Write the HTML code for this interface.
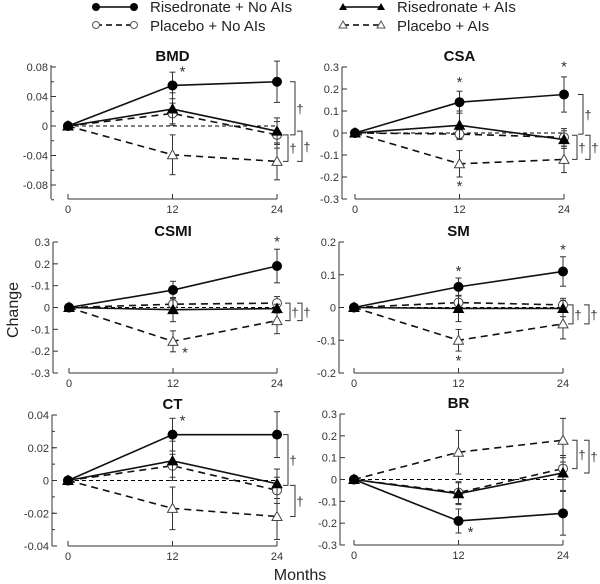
<!DOCTYPE html>
<html><head><meta charset="utf-8"><style>
html,body{margin:0;padding:0;background:#fff;}
svg{display:block;font-family:"Liberation Sans",Arial,sans-serif;}
</style></head><body>
<svg id="fig" width="600" height="584" viewBox="0 0 600 584">
  <g>
    <g>
      <line x1="96" y1="7" x2="134" y2="7" stroke="#000" stroke-width="1.5"/>
      <circle cx="96" cy="7" r="4" fill="#000"/><circle cx="134" cy="7" r="4" fill="#000"/>
      <text x="150" y="12" font-size="15" fill="#222">Risedronate + No AIs</text>
    </g>
    <g>
      <line x1="96" y1="25" x2="134" y2="25" stroke="#000" stroke-width="1.5" stroke-dasharray="6,4"/>
      <circle cx="96" cy="25" r="3.5" fill="#fff" stroke="#555"/><circle cx="134" cy="25" r="3.5" fill="#fff" stroke="#555"/>
      <text x="150" y="31" font-size="15" fill="#222">Placebo + No AIs</text>
    </g>
    <g>
      <line x1="343" y1="7" x2="381" y2="7" stroke="#000" stroke-width="1.5"/>
      <polygon points="343,3 347,10 339,10" fill="#000"/><polygon points="381,3 385,10 377,10" fill="#000"/>
      <text x="397" y="12" font-size="15" fill="#222">Risedronate + AIs</text>
    </g>
    <g>
      <line x1="343" y1="25" x2="381" y2="25" stroke="#000" stroke-width="1.5" stroke-dasharray="6,4"/>
      <polygon points="343,21 347,28 339,28" fill="#fff" stroke="#555"/><polygon points="381,21 385,28 377,28" fill="#fff" stroke="#555"/>
      <text x="397" y="31" font-size="15" fill="#222">Placebo + AIs</text>
    </g>
  </g>
  <text x="18" y="310" font-size="16" fill="#222" text-anchor="middle" transform="rotate(-90 18 310)">Change</text>
  <text x="300" y="580" font-size="16" fill="#222" text-anchor="middle">Months</text>
</svg>
<script>
const months = [0, 12, 24];
const panelNames = ["BMD", "CSA", "CSMI", "SM", "CT", "BR"];
// series: [risNoAIs, risAIs, placNoAIs, placAIs]
const bmdMean = [[0,0.055,0.06],[0,0.023,-0.007],[0,0.017,-0.012],[0,-0.039,-0.048]];
const bmdErr  = [[0,0.018,0.028],[0,0.022,0.018],[0,0.014,0.018],[0,0.027,0.025]];
const csaMean = [[0,0.14,0.175],[0,0.035,-0.03],[0,-0.005,-0.02],[0,-0.14,-0.12]];
const csaErr  = [[0,0.05,0.08],[0,0.065,0.04],[0,0.02,0.04],[0,0.06,0.06]];
const csmiMean = [[0,0.08,0.19],[0,-0.01,-0.005],[0,0.015,0.02],[0,-0.155,-0.06]];
const csmiErr  = [[0,0.04,0.077],[0,0.055,0.02],[0,0.03,0.03],[0,0.048,0.06]];
const smMean = [[0,0.063,0.11],[0,-0.003,-0.003],[0,0.015,0.008],[0,-0.1,-0.05]];
const smErr  = [[0,0.027,0.045],[0,0.04,0.025],[0,0.02,0.02],[0,0.033,0.046]];
const ctMean = [[0,0.028,0.028],[0,0.012,-0.002],[0,0.009,-0.006],[0,-0.017,-0.022]];
const ctErr  = [[0,0.01,0.014],[0,0.012,0.009],[0,0.007,0.008],[0,0.013,0.014]];
const brMean = [[0,-0.19,-0.155],[0,-0.065,0.03],[0,-0.06,0.05],[0,0.125,0.18]];
const brErr  = [[0,0.055,0.1],[0,0.05,0.08],[0,0.05,0.05],[0,0.1,0.1]];
const bmdTicks = [0.08,0.04,0,-0.04,-0.08];
const bmdTickLabels = ["0.08","0.04","0","-0.04","-0.08"];
const csaTicks = [0.3,0.2,0.1,0,-0.1,-0.2,-0.3];
const csaTickLabels = ["0.3","0.2","0.1","0","-0.1","-0.2","-0.3"];
const csmiTickLabels = ["0.3","0.2","-0.1","0","-0.1","-0.2","-0.3"];
const smTicks = [0.2,0.1,0,-0.1,-0.2];
const smTickLabels = ["0.2","0.1","0","-0.1","-0.2"];
const ctTicks = [0.04,0.02,0,-0.02,-0.04];
const ctTickLabels = ["0.04","0.02","0","-0.02","-0.04"];
const xTickLabels = ["0","12","24"];

const NS = "http://www.w3.org/2000/svg";
const svg = document.getElementById('fig');
function mk(tag, attrs, parent){ const e=document.createElementNS(NS,tag); for(const k in attrs) e.setAttribute(k,attrs[k]); parent.appendChild(e); return e; }

const panels = [
 {name:"BMD", mean:bmdMean, err:bmdErr, ticks:bmdTicks, labels:bmdTickLabels, ax:51, x0:68, x24:277, yMax:0.08, yMaxPx:67, yMin:-0.1, yMinPx:199.75, axisY:199, axTop:65, minor:0.02,
  stars:[[12,0.055,10,-9]], brackets:[[0.06,-0.012,290],[-0.012,-0.048,283],[-0.007,-0.048,297]]},
 {name:"CSA", mean:csaMean, err:csaErr, ticks:csaTicks, labels:csaTickLabels, ax:342, x0:355, x24:564, yMax:0.3, yMaxPx:67, yMin:-0.3, yMinPx:199, axisY:199, axTop:67, minor:0,
  stars:[[12,0.2,0,-2],[24,0.27,0,-2],[12,-0.2,0,14]], brackets:[[0.175,-0.005,578],[-0.01,-0.12,572],[-0.01,-0.12,585]]},
 {name:"CSMI", mean:csmiMean, err:csmiErr, ticks:csaTicks, labels:csmiTickLabels, ax:53, x0:69, x24:277, yMax:0.3, yMaxPx:242, yMin:-0.3, yMinPx:373, axisY:373, axTop:242, minor:0,
  stars:[[24,0.27,0,-2],[12,-0.155,12,16]], brackets:[[0.02,-0.06,285],[0.02,-0.06,297]]},
 {name:"SM", mean:smMean, err:smErr, ticks:smTicks, labels:smTickLabels, ax:339, x0:354, x24:563, yMax:0.2, yMaxPx:242, yMin:-0.2, yMinPx:373, axisY:373, axTop:242, minor:0,
  stars:[[12,0.09,0,-2],[24,0.155,0,-2],[12,-0.135,0,14]], brackets:[[0.008,-0.05,568],[0.008,-0.05,584]]},
 {name:"CT", mean:ctMean, err:ctErr, ticks:ctTicks, labels:ctTickLabels, ax:52, x0:68, x24:277, yMax:0.04, yMaxPx:415, yMin:-0.04, yMinPx:546, axisY:546, axTop:415, minor:0.01,
  stars:[[12,0.028,10,-9]], brackets:[[0.028,-0.003,283],[-0.003,-0.022,290]]},
 {name:"BR", mean:brMean, err:brErr, ticks:csaTicks, labels:csaTickLabels, ax:340, x0:354, x24:563, yMax:0.3, yMaxPx:414, yMin:-0.3, yMinPx:545, axisY:545, axTop:414, minor:0,
  stars:[[12,-0.19,12,16]], brackets:[[0.18,0.05,572],[0.18,0.03,584]]}
];

panels.forEach(p=>{
  const g = mk('g',{},svg);
  
  
  const X = m => p.x0 + (p.x24-p.x0)*m/24;
  const Y = v => p.yMaxPx + (p.yMax - v)*(p.yMinPx-p.yMaxPx)/(p.yMax-p.yMin);
  const t = mk('text',{x:X(12), y:p.yMaxPx-6, 'font-size':15, 'font-weight':'bold', 'text-anchor':'middle', fill:'#111'},g);
  t.textContent = p.name;
  
  
  const ya = mk('line',{x1:p.ax, y1:p.axTop, x2:p.ax, y2:p.axisY, stroke:'#333', 'stroke-width':1},g);
  
  
  if(p.minor){
    for(let v=p.yMin; v<=p.yMax+1e-9; v+=p.minor){
      mk('line',{x1:p.ax, y1:Y(v), x2:p.ax+3, y2:Y(v), stroke:'#333','stroke-width':1},g);
    }
  }
  p.ticks.forEach((v,i)=>{
    mk('line',{x1:p.ax, y1:Y(v), x2:p.ax+5, y2:Y(v), stroke:'#333','stroke-width':1},g);
    const tl = mk('text',{x:p.ax-3, y:Y(v)+4, 'font-size':11, 'text-anchor':'end', fill:'#333'},g);
    tl.textContent = p.labels[i];
    
    
  });
  const xa = mk('line',{x1:X(0), y1:p.axisY, x2:X(24), y2:p.axisY, stroke:'#333','stroke-width':1},g);
  
  
  months.forEach((m,i)=>{
    mk('line',{x1:X(m), y1:p.axisY, x2:X(m), y2:p.axisY-5, stroke:'#333','stroke-width':1},g);
    const xl = mk('text',{x:X(m), y:p.axisY+14, 'font-size':11, 'text-anchor':'middle', fill:'#333'},g);
    xl.textContent = xTickLabels[i];
    
    
  });
  const z = mk('line',{x1:X(0), y1:Y(0), x2:X(24), y2:Y(0), stroke:'#000','stroke-width':1,'stroke-dasharray':'4,3'},g);
  
  
  const styles = [
    {dash:null, fill:'#000', stroke:'#000', shape:'c', name:'risedronate-no-ais'},
    {dash:null, fill:'#000', stroke:'#000', shape:'t', name:'risedronate-ais'},
    {dash:'7,5', fill:'#fff', stroke:'#444', shape:'c', name:'placebo-no-ais'},
    {dash:'7,5', fill:'#fff', stroke:'#444', shape:'t', name:'placebo-ais'}
  ];
  [3,2,1,0].forEach(s=>{
    const st = styles[s];
    const sg = mk('g',{},g);
    
    
    const pts = months.map((m,i)=>X(m)+','+Y(p.mean[s][i])).join(' ');
    const pl = mk('polyline',{points:pts, fill:'none', stroke:'#111','stroke-width':1.6},sg);
    if(st.dash) pl.setAttribute('stroke-dasharray', st.dash);
    months.forEach((m,i)=>{
      const e = p.err[s][i];
      if(e>0){
        const x=X(m), yt=Y(p.mean[s][i]+e), yb=Y(p.mean[s][i]-e);
        mk('line',{x1:x,y1:yt,x2:x,y2:yb,stroke:'#333','stroke-width':1},sg);
        mk('line',{x1:x-3,y1:yt,x2:x+3,y2:yt,stroke:'#333','stroke-width':1},sg);
        mk('line',{x1:x-3,y1:yb,x2:x+3,y2:yb,stroke:'#333','stroke-width':1},sg);
      }
    });
    months.forEach((m,i)=>{
      const x=X(m), y=Y(p.mean[s][i]);
      let mark;
      if(st.shape==='c') mark = mk('circle',{cx:x,cy:y,r:4.5,fill:st.fill,stroke:st.stroke,'stroke-width':1},sg);
      else mark = mk('polygon',{points:`${x},${y-5} ${x+5},${y+4} ${x-5},${y+4}`,fill:st.fill,stroke:st.stroke,'stroke-width':1},sg);
      
      
    });
  });
  p.stars.forEach(s=>{
    const a = mk('text',{x:X(s[0])+s[2], y:Y(s[1])+s[3], 'font-size':15, 'text-anchor':'middle', fill:'#333'},g);
    a.textContent = '*';
    
    
  });
  p.brackets.forEach(b=>{
    const y1=Y(b[0]), y2=Y(b[1]), x=b[2]+5;
    mk('polyline',{points:`${x-5},${y1} ${x},${y1} ${x},${y2} ${x-5},${y2}`,fill:'none',stroke:'#333','stroke-width':1},g);
    const d = mk('text',{x:x+5, y:(y1+y2)/2+5, 'font-size':13, 'text-anchor':'middle', fill:'#333'},g);
    d.textContent = '†';
    
    
  });
});
</script>
</body></html>
